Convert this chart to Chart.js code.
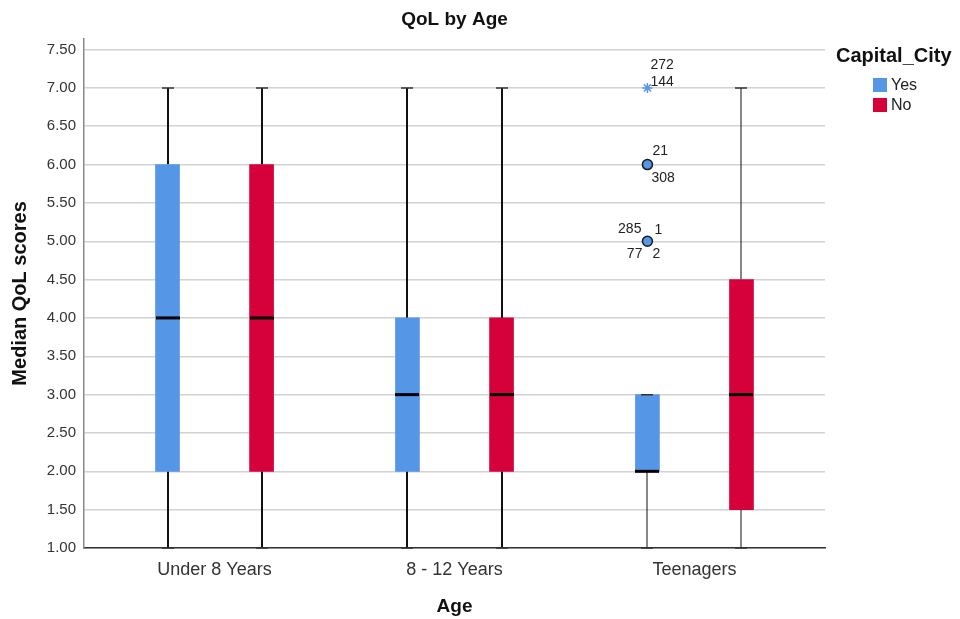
<!DOCTYPE html>
<html>
<head>
<meta charset="utf-8">
<title>QoL by Age</title>
<script src="https://cdn.jsdelivr.net/npm/chart.js@4.4.1/dist/chart.umd.min.js"></script>
<style>
  html, body { margin: 0; padding: 0; background: #fff; }
  #wrap { width: 960px; height: 619px; }
</style>
</head>
<body>
<div id="wrap"><canvas id="qolChart" width="960" height="619"></canvas></div>
<script>
// Box plot of median QoL scores by age group, split by Capital_City

const categories = ['Under 8 Years', '8 - 12 Years', 'Teenagers'];
const groups = ['Yes', 'No'];

// five-number summaries
const yesMin    = [1, 1, 1];
const yesQ1     = [2, 2, 2];
const yesMedian = [4, 3, 2];
const yesQ3     = [6, 4, 3];
const yesMax    = [7, 7, 3];

const noMin    = [1, 1, 1];
const noQ1     = [2, 2, 1.5];
const noMedian = [4, 3, 3];
const noQ3     = [6, 4, 4.5];
const noMax    = [7, 7, 7];

// outliers (all in Teenagers / Yes)
const outlierValues = [7, 6, 5];
const outlierKinds  = ['extreme', 'outlier', 'outlier'];
const outlierIds    = [['272', '144'], ['21', '308'], ['285', '1', '77', '2']];

const yTicks = [1.00, 1.50, 2.00, 2.50, 3.00, 3.50, 4.00, 4.50, 5.00, 5.50, 6.00, 6.50, 7.00, 7.50];

const YES_COLOR = '#5596e6';
const NO_COLOR = '#d6003a';
const FONT = '"Liberation Sans", Arial, sans-serif';
const GROUP_OFFSET = 0.196;   // box centre distance from category centre (category units)
const BOX_WIDTH = 24;
const whiskerWidths = [2, 2, 1];

const summaries = [
    { min: yesMin, q1: yesQ1, median: yesMedian, q3: yesQ3, max: yesMax, offset: -GROUP_OFFSET },
    { min: noMin, q1: noQ1, median: noMedian, q3: noQ3, max: noMax, offset: GROUP_OFFSET }
];

function boxData(s) {
    return categories.map((c, i) => ({ x: i + 1 + s.offset, y: [s.q1[i], s.q3[i]] }));
}

// whiskers behind the boxes, caps + medians on top
const boxPlotPlugin = {
    id: 'boxPlot',
    beforeDatasetsDraw(chart) {
        const { ctx, scales: { x, y } } = chart;
        ctx.save();
        ctx.strokeStyle = '#111';
        summaries.forEach(s => {
            categories.forEach((c, i) => {
                const px = Math.round(x.getPixelForValue(i + 1 + s.offset));
                ctx.lineWidth = whiskerWidths[i];
                ctx.beginPath();
                ctx.moveTo(px, y.getPixelForValue(s.min[i]));
                ctx.lineTo(px, y.getPixelForValue(s.q1[i]));
                ctx.moveTo(px, y.getPixelForValue(s.q3[i]));
                ctx.lineTo(px, y.getPixelForValue(s.max[i]));
                ctx.stroke();
            });
        });
        ctx.restore();
    },
    afterDatasetsDraw(chart) {
        const { ctx, scales: { x, y } } = chart;
        ctx.save();
        summaries.forEach(s => {
            categories.forEach((c, i) => {
                const px = Math.round(x.getPixelForValue(i + 1 + s.offset));
                // caps
                ctx.strokeStyle = '#333';
                ctx.lineWidth = 1.5;
                ctx.beginPath();
                [s.min[i], s.max[i]].forEach(v => {
                    const py = y.getPixelForValue(v);
                    ctx.moveTo(px - 6, py);
                    ctx.lineTo(px + 6, py);
                });
                ctx.stroke();
                // median
                const py = y.getPixelForValue(s.median[i]);
                ctx.strokeStyle = '#000';
                ctx.lineWidth = 3;
                ctx.beginPath();
                ctx.moveTo(px - BOX_WIDTH / 2, py);
                ctx.lineTo(px + BOX_WIDTH / 2, py);
                ctx.stroke();
            });
        });

        // outlier case labels
        const labelOffsets = [
            [[3, -23, 'left'], [3, -6, 'left']],
            [[5, -13, 'left'], [4, 14, 'left']],
            [[-6, -12, 'right'], [7, -11, 'left'], [-5, 13, 'right'], [5, 13, 'left']]
        ];
        ctx.font = '14px ' + FONT;
        ctx.fillStyle = '#222';
        ctx.textBaseline = 'middle';
        outlierValues.forEach((v, k) => {
            const px = x.getPixelForValue(3 - GROUP_OFFSET);
            const py = y.getPixelForValue(v);
            outlierIds[k].forEach((id, j) => {
                const [dx, dy, align] = labelOffsets[k][j];
                ctx.textAlign = align;
                ctx.fillText(id, px + dx, py + dy);
            });
        });
        ctx.restore();
    },
    afterDraw(chart) {
        // legend block at the right
        const { ctx } = chart;
        ctx.save();
        ctx.fillStyle = '#111';
        ctx.textBaseline = 'middle';
        ctx.textAlign = 'left';
        ctx.font = 'bold 20px ' + FONT;
        ctx.fillText('Capital_City', 836, 56);
        ctx.font = '16px ' + FONT;
        chart.data.datasets.slice(0, 2).forEach((ds, i) => {
            const top = 78 + i * 20;
            ctx.fillStyle = ds.backgroundColor;
            ctx.fillRect(873, top, 14, 14);
            ctx.fillStyle = '#222';
            ctx.fillText(ds.label, 891, top + 7.5);
        });
        ctx.restore();
    }
};

const ctx = document.getElementById('qolChart').getContext('2d');
new Chart(ctx, {
    type: 'bar',
    data: {
        datasets: [
            {
                label: groups[0],
                data: boxData(summaries[0]),
                backgroundColor: YES_COLOR,
                borderWidth: 0,
                barThickness: BOX_WIDTH,
                grouped: false
            },
            {
                label: groups[1],
                data: boxData(summaries[1]),
                backgroundColor: NO_COLOR,
                borderWidth: 0,
                barThickness: BOX_WIDTH,
                grouped: false
            },
            {
                type: 'scatter',
                label: 'Outliers',
                data: outlierValues.map(v => ({ x: 3 - GROUP_OFFSET, y: v })),
                pointStyle: outlierKinds.map(k => k === 'extreme' ? 'star' : 'circle'),
                pointRadius: outlierKinds.map(k => k === 'extreme' ? 5 : 5),
                pointBackgroundColor: YES_COLOR,
                pointBorderColor: outlierKinds.map(k => k === 'extreme' ? YES_COLOR : '#1a1a1a'),
                pointBorderWidth: 1.5
            }
        ]
    },
    options: {
        responsive: false,
        animation: false,
        layout: { padding: { left: 0, right: 135, top: 0, bottom: 0 } },
        plugins: {
            legend: { display: false },
            tooltip: { enabled: false },
            title: {
                display: true,
                text: 'QoL by Age',
                fullSize: false,
                color: '#111',
                font: { family: FONT, size: 19, weight: 'bold' },
                padding: { top: 8, bottom: 8 }
            }
        },
        scales: {
            x: {
                type: 'linear',
                offset: false,
                min: 0.456,
                max: 3.544,
                afterBuildTicks(scale) {
                    scale.ticks = categories.map((c, i) => ({ value: i + 1 }));
                },
                afterFit(scale) { scale.height = 71; },
                ticks: {
                    callback: v => categories[v - 1],
                    color: '#333',
                    padding: 11,
                    font: { family: FONT, size: 18 }
                },
                grid: { display: false, drawTicks: false },
                border: { display: true, color: '#333', width: 1.5 },
                title: {
                    display: true,
                    text: 'Age',
                    color: '#111',
                    font: { family: FONT, size: 19, weight: 'bold' },
                    padding: { top: 17, bottom: 1 }
                }
            },
            y: {
                min: 1,
                max: 7.64,
                afterBuildTicks(scale) {
                    scale.ticks = yTicks.map(v => ({ value: v }));
                },
                afterFit(scale) { scale.width = 84; },
                ticks: {
                    callback: v => v.toFixed(2),
                    color: '#333',
                    padding: 8,
                    font: { family: FONT, size: 15 }
                },
                grid: { color: '#d2d2d2', lineWidth: 1.5, drawTicks: false },
                border: { display: true, color: '#888', width: 1.5 },
                title: {
                    display: true,
                    text: 'Median QoL scores',
                    color: '#111',
                    font: { family: FONT, size: 20, weight: 'bold' },
                    padding: { top: 8, bottom: 4 }
                }
            }
        }
    },
    plugins: [boxPlotPlugin]
});
</script>
</body>
</html>
